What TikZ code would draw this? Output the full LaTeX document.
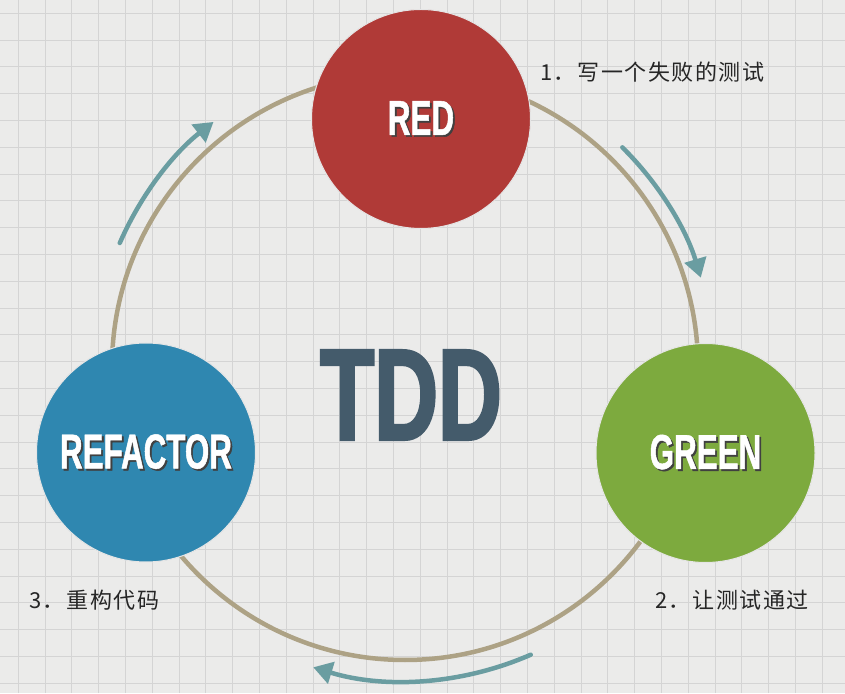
\documentclass[tikz,border=0pt]{standalone}
\usepackage{fontspec}
\usetikzlibrary{arrows.meta}
\newfontfamily\cjk[LetterSpace=7]{Noto Sans CJK SC}
\newfontfamily\stagefont[FakeStretch=0.64,FakeBold=1]{Liberation Sans}
\newfontfamily\tddfont[FakeStretch=0.68,FakeBold=2]{Liberation Sans}
\definecolor{paper}{HTML}{EBEBEA}
\definecolor{gridline}{HTML}{D4D4D4}
\definecolor{redstage}{HTML}{B03A37}
\definecolor{greenstage}{HTML}{7DAA3E}
\definecolor{bluestage}{HTML}{2F87B0}
\definecolor{ring}{HTML}{ADA285}
\definecolor{flow}{HTML}{6A9DA1}
\definecolor{tddslate}{HTML}{445B6B}
\newcommand\embossed[1]{\rlap{\color{black!75}\hspace{1.8pt}\raisebox{-1.8pt}{#1}}#1}
\tikzset{
  stage/.style={circle,minimum size=219pt,inner sep=0pt,draw=white!80!gray,line width=1pt,
    text=white,font=\stagefont\bfseries\fontsize{49}{49}\selectfont},
  steplabel/.style={anchor=west,inner sep=0pt,text=black!85,font=\cjk\fontsize{22}{22}\selectfont},
  cyclearrow/.style={flow,line width=4.5pt,line cap=round,-{Triangle[length=19pt,width=22pt]}}
}
\begin{document}
\begin{tikzpicture}[x=1pt,y=1pt]
        \useasboundingbox (0,0) rectangle (845,693);
        % paper and grid
        \fill[paper] (0,0) rectangle (845,693);
        \begin{scope}
        \clip (0,0) rectangle (845,693);
        \foreach \gx in {0,...,31}
            \draw[gridline,line width=0.9pt] ({18.3+26.8*\gx},0) -- ++(0,693);
        \foreach \gy in {0,...,25}
            \draw[gridline,line width=0.9pt] (0,{679.7-26.8*\gy}) -- ++(845,0);
        \end{scope}
        % the cycle
        \coordinate (hub) at (405,326);
        \draw[ring,line width=4.5pt] (hub) circle[radius=293];
        \draw[cyclearrow] ([shift={(156.5:311)}]hub) arc[start angle=156.5,end angle=128,radius=311];
        \draw[cyclearrow] ([shift={(45.3:309)}]hub) arc[start angle=45.3,end angle=16.8,radius=309];
        \draw[cyclearrow] ([shift={(-66.4:314)}]hub) arc[start angle=-66.4,end angle=-107,radius=314];
        % stages
        \node[stage,fill=redstage] (red) at (421,574) {\embossed{RED}};
        \node[stage,fill=greenstage] (green) at (705.5,240) {\embossed{GREEN}};
        \node[stage,fill=bluestage] (refactor) at (146,240.5) {\embossed{REFACTOR}};
        \node[text=tddslate,font=\tddfont\bfseries\fontsize{130}{130}\selectfont] (tdd) at (411,298) {TDD};
        % steps
        \node[steplabel] (redstep) at (540,621) {1．写一个失败的测试};
        \node[steplabel] (greenstep) at (655,93) {2．让测试通过};
        \node[steplabel] (refactorstep) at (29,93) {3．重构代码};
    \end{tikzpicture}
\end{document}
